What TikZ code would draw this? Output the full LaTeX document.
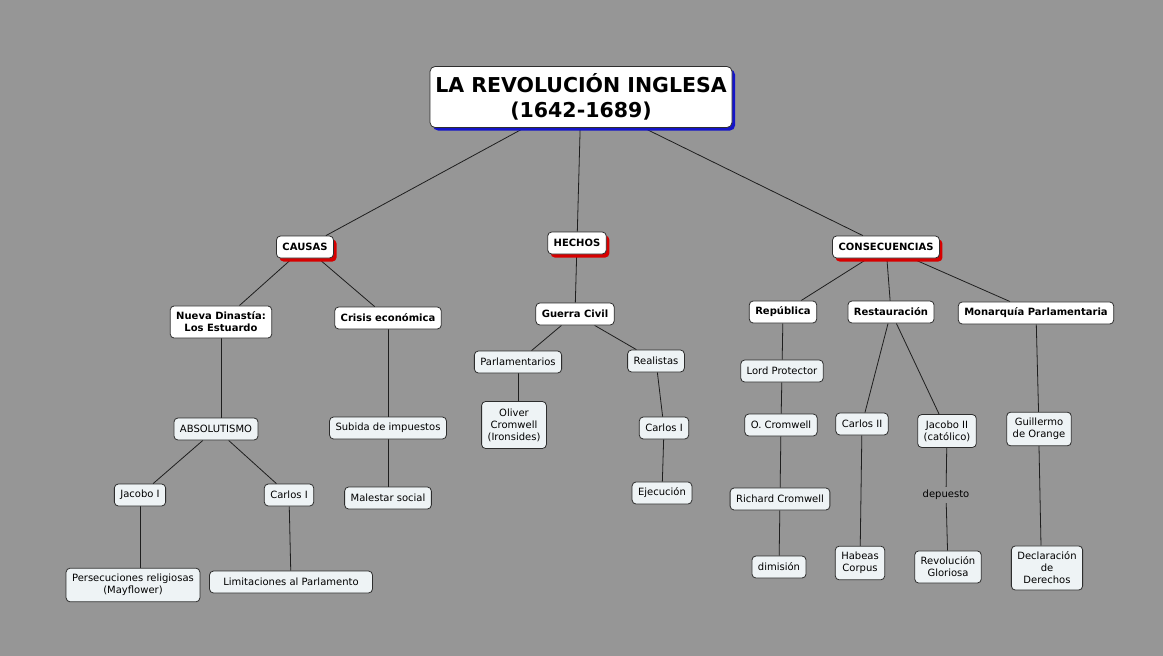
\documentclass[tikz,border=0pt]{standalone}
\usepackage{fontspec}
\setmainfont{DejaVu Sans}
\usetikzlibrary{shadows,backgrounds}
\definecolor{bg}{RGB}{150,150,150}
\definecolor{boxline}{RGB}{45,45,45}
\definecolor{nodefill}{RGB}{238,243,245}
\definecolor{shadowred}{RGB}{215,0,0}
\definecolor{shadowblue}{RGB}{20,20,200}
\definecolor{conncol}{RGB}{30,30,30}
\begin{document}
\begin{tikzpicture}[x=1pt,y=-1pt,
  box/.style={draw=boxline, line width=0.8pt, rounded corners=4pt, fill=nodefill,
    font=\fontsize{10}{12}\selectfont, align=center, inner xsep=6pt, inner ysep=6pt,
    minimum height=22pt},
  head/.style={box, fill=white, font=\fontsize{10}{12}\selectfont\bfseries},
  redhead/.style={head, drop shadow={shadow xshift=3pt, shadow yshift=-3.5pt, fill=shadowred, opacity=1}},
  titlebox/.style={draw=boxline, line width=0.8pt, rounded corners=5pt, fill=white,
    font=\fontsize{20.5}{25}\selectfont\bfseries, align=center, minimum width=302pt, minimum height=61pt,
    drop shadow={shadow xshift=3pt, shadow yshift=-3pt, fill=shadowblue, opacity=1}},
  lbl/.style={font=\fontsize{10}{12}\selectfont, inner sep=3pt},
  conn/.style={draw=conncol, line width=0.8pt}
]
\useasboundingbox (0,0) rectangle (1163,656);

% Title and heads
\node[titlebox] (title) at (581,97) {LA REVOLUCIÓN INGLESA\\(1642-1689)};
\node[redhead] (causas) at (305,247) {CAUSAS};
\node[redhead] (hechos) at (577,243) {HECHOS};
\node[redhead] (conse) at (886,247) {CONSECUENCIAS};

% Causas
\node[head] (nueva) at (221,322) {Nueva Dinastía:\\Los Estuardo};
\node[head] (crisis) at (388,318) {Crisis económica};
\node[box] (absol) at (216,429) {ABSOLUTISMO};
\node[box] (jacobo1) at (140,495) {Jacobo I};
\node[box] (carlos1a) at (289,495) {Carlos I};
\node[box] (persec) at (133,585) {Persecuciones religiosas\\(Mayflower)};
\node[box, minimum width=163pt] (limit) at (291,582) {Limitaciones al Parlamento};
\node[box] (subida) at (388,428) {Subida de impuestos};
\node[box] (malestar) at (388,498) {Malestar social};

% Hechos
\node[head] (guerra) at (575,314) {Guerra Civil};
\node[box] (parl) at (518,362) {Parlamentarios};
\node[box] (real) at (656,361) {Realistas};
\node[box, minimum height=47pt] (oliver) at (514,425) {Oliver\\Cromwell\\(Ironsides)};
\node[box] (carlos1b) at (664,428) {Carlos I};
\node[box] (ejec) at (662,493) {Ejecución};

% Consecuencias
\node[head] (repub) at (783,312) {República};
\node[head] (restau) at (891,312) {Restauración};
\node[head] (monar) at (1036,313) {Monarquía Parlamentaria};
\node[box] (lord) at (782,371) {Lord Protector};
\node[box] (ocrom) at (781,425) {O. Cromwell};
\node[box] (richard) at (780,499) {Richard Cromwell};
\node[box] (dimis) at (779,567) {dimisión};
\node[box] (carlos2) at (862,424) {Carlos II};
\node[box] (jacobo2) at (947,431) {Jacobo II\\(católico)};
\node[lbl] (depuesto) at (946,495) {depuesto};
\node[box] (habeas) at (860,563) {Habeas\\Corpus};
\node[box] (revol) at (948,567) {Revolución\\Gloriosa};
\node[box] (guill) at (1039,429) {Guillermo\\de Orange};
\node[box] (decl) at (1047,568) {Declaración\\de\\Derechos};

\begin{scope}[on background layer]
\fill[bg] (0,0) rectangle (1163,656);
\draw[conn] (title) -- (causas);
\draw[conn] (title) -- (hechos);
\draw[conn] (title) -- (conse);
\draw[conn] (causas) -- (nueva);
\draw[conn] (causas) -- (crisis);
\draw[conn] (nueva.south) -- (nueva.south |- absol.north);
\draw[conn] (absol) -- (jacobo1);
\draw[conn] (absol) -- (carlos1a);
\draw[conn] (jacobo1.south) -- (jacobo1.south |- persec.north);
\draw[conn] (carlos1a) -- (limit);
\draw[conn] (crisis) -- (subida);
\draw[conn] (subida) -- (malestar);
\draw[conn] (hechos) -- (guerra);
\draw[conn] (guerra) -- (parl);
\draw[conn] (guerra) -- (real);
\draw[conn] (parl.south) -- (parl.south |- oliver.north);
\draw[conn] (real) -- (carlos1b);
\draw[conn] (carlos1b) -- (ejec);
\draw[conn] (conse) -- (repub);
\draw[conn] (conse) -- (restau);
\draw[conn] (conse) -- (monar);
\draw[conn] (repub) -- (lord);
\draw[conn] (lord) -- (ocrom);
\draw[conn] (ocrom) -- (richard);
\draw[conn] (richard) -- (dimis);
\draw[conn] (restau) -- (carlos2);
\draw[conn] (restau) -- (jacobo2);
\draw[conn] (carlos2) -- (habeas);
\draw[conn] (jacobo2) -- (depuesto);
\draw[conn] (depuesto) -- (revol);
\draw[conn] (monar) -- (guill);
\draw[conn] (guill.south) -- ([xshift=-6pt]decl.north);
\end{scope}
\end{tikzpicture}
\end{document}
